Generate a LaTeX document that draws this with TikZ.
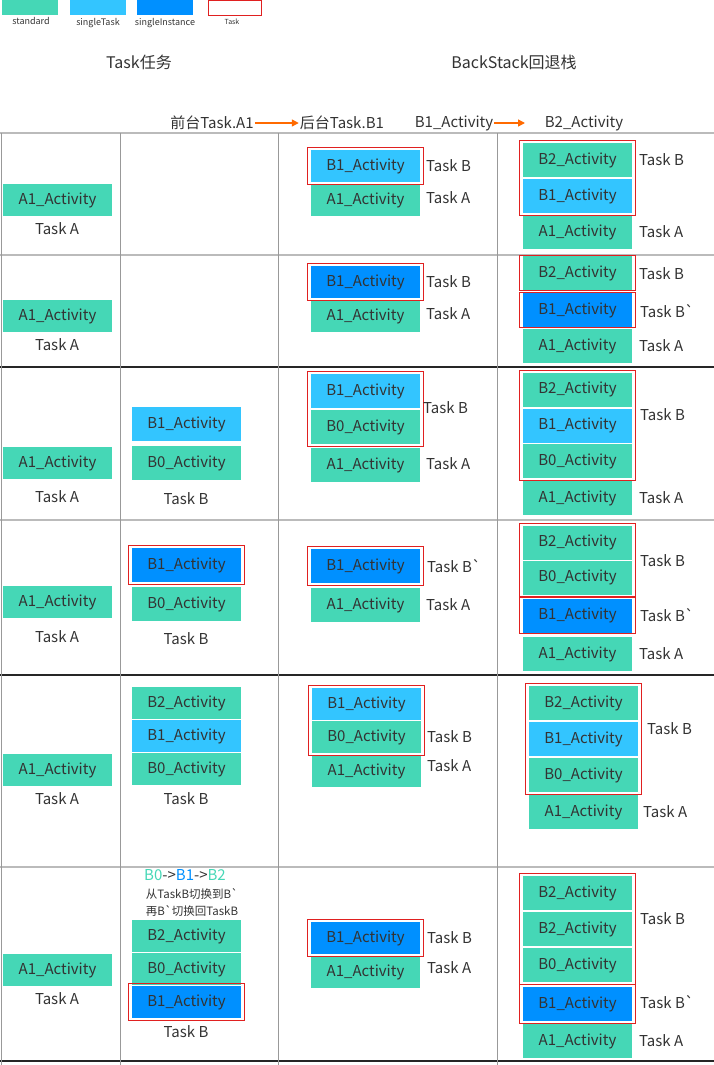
\documentclass[tikz,border=0pt]{standalone}
\usepackage{fontspec}
\setmainfont{Noto Sans CJK SC}[Ligatures=TeXOff]
\usetikzlibrary{arrows.meta, positioning, fit}
\definecolor{actstd}{HTML}{45D7B6}
\definecolor{actstask}{HTML}{33C5FF}
\definecolor{actsinst}{HTML}{0090FF}
\definecolor{taskred}{HTML}{E02020}
\definecolor{gridgray}{HTML}{BBBBBB}
\definecolor{colgray}{HTML}{999999}
\definecolor{txtgray}{HTML}{333333}
\definecolor{arroworange}{HTML}{FF6A00}

\tikzset{
  act/.style={minimum width=109pt, minimum height=32pt, inner sep=0pt,
    text=txtgray, font=\fontsize{15}{17}\selectfont},
  tall/.style={minimum height=34pt},
  std/.style={act, fill=actstd},
  stask/.style={act, fill=actstask},
  sinst/.style={act, fill=actsinst},
  tasklbl/.style={text=txtgray, font=\fontsize{15}{17}\selectfont, inner sep=1pt},
  lbl/.style={tasklbl, anchor=west},
  taskframe/.style={draw=taskred, line width=0.9pt, inner xsep=3.5pt, inner ysep=2pt},
  legendtxt/.style={text=txtgray, font=\fontsize{9}{10}\selectfont, inner sep=0pt},
  headtxt/.style={text=txtgray, font=\fontsize{15}{17}\selectfont, inner sep=1pt},
  orangearrow/.style={arroworange, line width=1.4pt, -{Triangle[length=7pt, width=7pt]}},
  thinrule/.style={gridgray, line width=1.4pt},
  thickrule/.style={black!85, line width=2.4pt},
  colrule/.style={colgray, line width=0.9pt},
}

\begin{document}
\begin{tikzpicture}[x=1pt, y=-1pt]
  \useasboundingbox (0,0) rectangle (714,1065);

  % legend
  \node[std, minimum width=56pt, minimum height=16pt] (lgstd) at (30,7.5) {};
  \node[legendtxt] (lgstdtxt) at (31,21) {standard};
  \node[stask, minimum width=56pt, minimum height=16pt] (lgstask) at (98,7.5) {};
  \node[legendtxt] (lgstasktxt) at (98,23) {singleTask};
  \node[sinst, minimum width=56pt, minimum height=16pt] (lgsinst) at (165,7.5) {};
  \node[legendtxt] (lgsinsttxt) at (165,23) {singleInstance};
  \node[draw=taskred, line width=0.8pt, minimum width=53pt, minimum height=15pt] (lgtask) at (234.5,7.5) {};
  \node[legendtxt, font=\fontsize{7}{8}\selectfont] (lgtasktxt) at (232,22) {Task};

  % headings
  \node[headtxt, font=\fontsize{16}{18}\selectfont] (hdtask) at (139,62) {Task任务};
  \node[headtxt, font=\fontsize{16}{18}\selectfont] (hdback) at (514,62) {BackStack回退栈};
  \node[headtxt] (front) at (212,123) {前台Task.A1};
  \node[headtxt] (back) at (342,123) {后台Task.B1};
  \node[headtxt] (hdb1) at (454,123) {B1\_Activity};
  \node[headtxt] (hdb2) at (584,123) {B2\_Activity};
  \coordinate (hdb2end) at (525,123);
  \draw[orangearrow] (front) -- (back);
  \draw[orangearrow] (hdb1) -- (hdb2end);

  % grid
  \foreach \y in {133,255,520,867}
    \draw[thinrule] (0,\y) -- (714,\y);
  \foreach \y in {367,675,1061}
    \draw[thickrule] (0,\y) -- (714,\y);
  \foreach \x in {1.5,120.5,278,497}
    \draw[colrule] (\x,133) -- (\x,1065);

  % first column: Task A in every row
  \foreach \r/\y/\t in {1/200/229, 2/316/345, 3/463/497, 4/602/637, 5/770/799, 6/970/999} {
    \node[std] (a1r\r) at (57.5,\y) {A1\_Activity};
    \node[tasklbl] (taskar\r) at (57,\t) {Task A};
  }

  % row 1
  \node[stask] (r1c3b1) at (365.5,166) {B1\_Activity};
  \node[std] (r1c3a1) at (365.5,200) {A1\_Activity};
  \node[taskframe, fit=(r1c3b1)] (r1c3fb) {};
  \node[lbl] (r1c3tb) at (425,166) {Task B};
  \node[lbl] (r1c3ta) at (425,198) {Task A};
  \node[std, tall] (r1c4b2) at (577.5,160) {B2\_Activity};
  \node[stask, tall] (r1c4b1) at (577.5,196) {B1\_Activity};
  \node[std, tall] (r1c4a1) at (577.5,232) {A1\_Activity};
  \node[taskframe, fit=(r1c4b2)(r1c4b1)] (r1c4fb) {};
  \node[lbl] (r1c4tb) at (638,160) {Task B};
  \node[lbl] (r1c4ta) at (638,232) {Task A};

  % row 2
  \node[sinst] (r2c3b1) at (365.5,282) {B1\_Activity};
  \node[std] (r2c3a1) at (365.5,316) {A1\_Activity};
  \node[taskframe, fit=(r2c3b1)] (r2c3fb) {};
  \node[lbl] (r2c3tb) at (425,282) {Task B};
  \node[lbl] (r2c3ta) at (425,314) {Task A};
  \node[std, tall] (r2c4b2) at (577.5,273) {B2\_Activity};
  \node[sinst, tall] (r2c4b1) at (577.5,310) {B1\_Activity};
  \node[std, tall] (r2c4a1) at (577.5,346) {A1\_Activity};
  \node[taskframe, inner ysep=0.5pt, fit=(r2c4b2)] (r2c4fb) {};
  \node[taskframe, inner ysep=0.5pt, fit=(r2c4b1)] (r2c4fbb) {};
  \node[lbl] (r2c4tb) at (638,274) {Task B};
  \node[lbl] (r2c4tbb) at (639,311) {Task B`};
  \node[lbl] (r2c4ta) at (638,346) {Task A};

  % row 3
  \node[stask, tall] (r3c2b1) at (186.5,424) {B1\_Activity};
  \node[std, tall] (r3c2b0) at (186.5,463) {B0\_Activity};
  \node[tasklbl] (r3c2tb) at (186,499) {Task B};
  \node[stask, tall] (r3c3b1) at (365.5,391) {B1\_Activity};
  \node[std, tall] (r3c3b0) at (365.5,427) {B0\_Activity};
  \node[std, tall] (r3c3a1) at (365.5,465) {A1\_Activity};
  \node[taskframe, fit=(r3c3b1)(r3c3b0)] (r3c3fb) {};
  \node[lbl] (r3c3tb) at (422,408) {Task B};
  \node[lbl] (r3c3ta) at (425,464) {Task A};
  \node[std, tall] (r3c4b2) at (577.5,389.5) {B2\_Activity};
  \node[stask, tall] (r3c4b1) at (577.5,425.5) {B1\_Activity};
  \node[std, tall] (r3c4b0) at (577.5,461) {B0\_Activity};
  \node[std, tall] (r3c4a1) at (577.5,498) {A1\_Activity};
  \node[taskframe, fit=(r3c4b2)(r3c4b0)] (r3c4fb) {};
  \node[lbl] (r3c4tb) at (639,415) {Task B};
  \node[lbl] (r3c4ta) at (638,498) {Task A};

  % row 4
  \node[sinst, tall] (r4c2b1) at (186.5,565) {B1\_Activity};
  \node[std, tall] (r4c2b0) at (186.5,604) {B0\_Activity};
  \node[taskframe, fit=(r4c2b1)] (r4c2fb) {};
  \node[tasklbl] (r4c2tb) at (186,639) {Task B};
  \node[sinst, tall] (r4c3b1) at (365.5,566) {B1\_Activity};
  \node[std, tall] (r4c3a1) at (365.5,605) {A1\_Activity};
  \node[taskframe, fit=(r4c3b1)] (r4c3fb) {};
  \node[lbl] (r4c3tb) at (426,566) {Task B`};
  \node[lbl] (r4c3ta) at (425,605) {Task A};
  \node[std, tall] (r4c4b2) at (577.5,542.5) {B2\_Activity};
  \node[std, tall] (r4c4b0) at (577.5,577.5) {B0\_Activity};
  \node[sinst, tall] (r4c4b1) at (577.5,615.5) {B1\_Activity};
  \node[std, tall] (r4c4a1) at (577.5,654) {A1\_Activity};
  \node[taskframe, fit=(r4c4b2)(r4c4b0)] (r4c4fb) {};
  \node[taskframe, inner ysep=1pt, fit=(r4c4b1)] (r4c4fbb) {};
  \node[lbl] (r4c4tb) at (639,561) {Task B};
  \node[lbl] (r4c4tbb) at (639,615) {Task B`};
  \node[lbl] (r4c4ta) at (638,654) {Task A};

  % row 5
  \node[std] (r5c2b2) at (186.5,703) {B2\_Activity};
  \node[stask] (r5c2b1) at (186.5,736) {B1\_Activity};
  \node[std] (r5c2b0) at (186.5,769) {B0\_Activity};
  \node[tasklbl] (r5c2tb) at (186,799) {Task B};
  \node[stask] (r5c3b1) at (366.5,704) {B1\_Activity};
  \node[std] (r5c3b0) at (366.5,737) {B0\_Activity};
  \node[std] (r5c3a1) at (366.5,771) {A1\_Activity};
  \node[taskframe, fit=(r5c3b1)(r5c3b0)] (r5c3fb) {};
  \node[lbl] (r5c3tb) at (426,737) {Task B};
  \node[lbl] (r5c3ta) at (426,766) {Task A};
  \node[std, tall] (r5c4b2) at (583.5,703) {B2\_Activity};
  \node[stask, tall] (r5c4b1) at (583.5,739) {B1\_Activity};
  \node[std, tall] (r5c4b0) at (583.5,775) {B0\_Activity};
  \node[std, tall] (r5c4a1) at (583.5,812) {A1\_Activity};
  \node[taskframe, fit=(r5c4b2)(r5c4b0)] (r5c4fb) {};
  \node[lbl] (r5c4tb) at (646,729) {Task B};
  \node[lbl] (r5c4ta) at (642,812) {Task A};

  % row 6
  \node[tasklbl, font=\fontsize{15}{17}\selectfont] (r6c2flow) at (185,875)
    {\textcolor{actstd}{B0}->\textcolor{actsinst}{B1}->\textcolor{actstd}{B2}};
  \node[tasklbl, font=\fontsize{11.5}{13}\selectfont] (r6c2note) at (192,894) {从TaskB切换到B`};
  \node[tasklbl, font=\fontsize{11.5}{13}\selectfont] (r6c2noteb) at (192,911) {再B`切换回TaskB};
  \node[std] (r6c2b2) at (186.5,936) {B2\_Activity};
  \node[std] (r6c2b0) at (186.5,969) {B0\_Activity};
  \node[sinst] (r6c2b1) at (186.5,1002) {B1\_Activity};
  \node[taskframe, fit=(r6c2b1)] (r6c2fb) {};
  \node[tasklbl] (r6c2tb) at (186,1032) {Task B};
  \node[sinst] (r6c3b1) at (365.5,938) {B1\_Activity};
  \node[std] (r6c3a1) at (365.5,972) {A1\_Activity};
  \node[taskframe, fit=(r6c3b1)] (r6c3fb) {};
  \node[lbl] (r6c3tb) at (426,938) {Task B};
  \node[lbl] (r6c3ta) at (426,968) {Task A};
  \node[std, tall] (r6c4b2) at (577.5,893) {B2\_Activity};
  \node[std, tall] (r6c4b2b) at (577.5,929) {B2\_Activity};
  \node[std, tall] (r6c4b0) at (577.5,965) {B0\_Activity};
  \node[sinst, tall] (r6c4b1) at (577.5,1004) {B1\_Activity};
  \node[std, tall] (r6c4a1) at (577.5,1041) {A1\_Activity};
  \node[taskframe, fit=(r6c4b2)(r6c4b0)] (r6c4fb) {};
  \node[taskframe, fit=(r6c4b1)] (r6c4fbb) {};
  \node[lbl] (r6c4tb) at (639,919) {Task B};
  \node[lbl] (r6c4tbb) at (639,1002) {Task B`};
  \node[lbl] (r6c4ta) at (638,1041) {Task A};
\end{tikzpicture}
\end{document}
